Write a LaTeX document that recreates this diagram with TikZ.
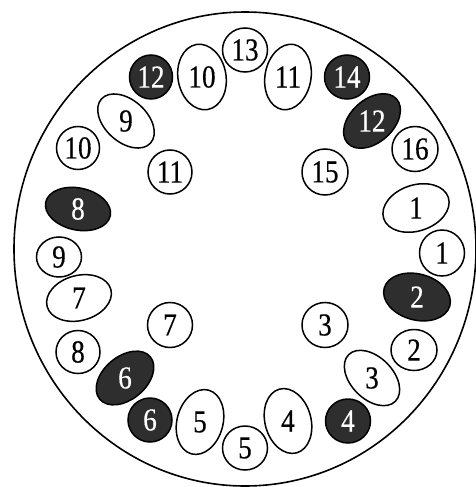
\documentclass[tikz,border=0pt]{standalone}
\usepackage{fontspec}
\newfontfamily\numfont[FakeStretch=0.85,FakeBold=0.4]{Liberation Serif}
\usetikzlibrary{shapes.geometric}
\definecolor{darkfill}{HTML}{2E2E2E}
\tikzset{
  wh/.style={ellipse, draw=black, line width=1.5pt, fill=white, inner sep=0pt},
  dk/.style={ellipse, draw=black, line width=1.5pt, fill=darkfill, inner sep=0pt},
  whtxt/.style={inner sep=0pt, text=black, font=\numfont\fontsize{32}{32}\selectfont},
  dktxt/.style={inner sep=0pt, text=white, font=\numfont\fontsize{32}{32}\selectfont},
}
% style, name, position, width, height, rotation, text
\newcommand\ovl[7]{%
  \node[#1, minimum width=#4pt, minimum height=#5pt, rotate=#6] (#2) at (#3) {};
  \node[#1txt] (#2t) at (#2.center) {#7};
}
\begin{document}
\begin{tikzpicture}[x=1pt, y=-1pt]
\useasboundingbox (0,0) rectangle (476,487);
\node[ellipse, draw=black, line width=1.6pt, minimum width=462pt, minimum height=474pt, inner sep=0pt] (outer) at (245,249) {};
% top
\ovl{dk}{d12a}{151,77}{43}{44}{0}{12}
\ovl{wh}{w10a}{202,77}{48}{66}{10}{10}
\ovl{wh}{w13}{245,50}{45}{44}{0}{13}
\ovl{wh}{w11a}{288,77}{46}{66}{-10}{11}
\ovl{dk}{d14}{347,77}{45}{44}{0}{14}
\ovl{dk}{d12b}{372,121}{66}{43}{42}{12}
\ovl{wh}{w9a}{126,121}{66}{42}{-42}{9}
% left
\ovl{wh}{w10b}{78,148}{43}{43}{0}{10}
\ovl{wh}{w11b}{170,172}{44}{44}{0}{11}
\ovl{dk}{d8}{78,209}{66}{42}{-12}{8}
\ovl{wh}{w9b}{59,257}{45}{40}{0}{9}
\ovl{wh}{w7a}{79,298}{66}{45}{15}{7}
\ovl{wh}{w8}{78,352}{44}{43}{0}{8}
\ovl{wh}{w7b}{170,325}{45}{45}{0}{7}
\ovl{dk}{d6a}{125,378}{66}{43}{40}{6}
\ovl{dk}{d6b}{150,420}{44}{44}{0}{6}
% bottom
\ovl{wh}{w5a}{200,422}{46}{66}{-15}{5}
\ovl{wh}{w5b}{245,448}{45}{44}{0}{5}
\ovl{wh}{w4a}{288,421}{46}{66}{15}{4}
\ovl{dk}{d4}{348,421}{45}{44}{0}{4}
% right
\ovl{wh}{w15}{325,172}{46}{46}{0}{15}
\ovl{wh}{w16}{415,149}{46}{45}{0}{16}
\ovl{wh}{w1a}{416,208}{68}{46}{18}{1}
\ovl{wh}{w1b}{442,253}{45}{46}{0}{1}
\ovl{dk}{d2}{417,297}{68}{46}{-15}{2}
\ovl{wh}{w2}{414,350}{46}{41}{0}{2}
\ovl{wh}{w3a}{325,325}{46}{45}{0}{3}
\ovl{wh}{w3b}{372,378}{66}{42}{-45}{3}
\end{tikzpicture}
\end{document}
